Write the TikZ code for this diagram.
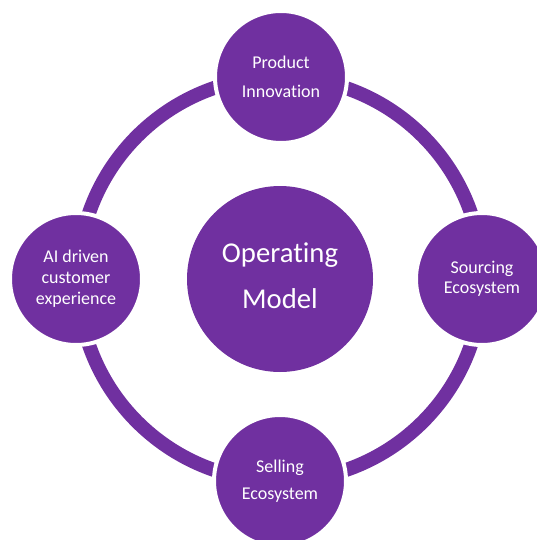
\documentclass[tikz,border=0pt]{standalone}
\usepackage{fontspec}
\setmainfont{Carlito}[Ligatures=NoCommon]
\definecolor{opurple}{HTML}{7030A0}

\begin{document}
\begin{tikzpicture}[x=1pt,y=-1pt,
    hub/.style={circle,fill=opurple,minimum size=186pt,inner sep=0pt,
        text=white,align=center,font=\fontsize{28.7}{46}\selectfont},
    satellite/.style={circle,fill=opurple,draw=white,line width=4pt,
        minimum size=132pt,inner sep=0pt,text=white,align=center},
    ring/.style={draw=opurple,line width=14pt}]
    \useasboundingbox (0,0) rectangle (536,540);

    % Draw the ring and the model in the middle
    \node[hub] (opmodel) at (280,279) {};
    \draw[ring] (opmodel.center) circle (202pt);
    \node[font=\fontsize{28.7}{46}\selectfont,text=white,align=center] (opmodeltext) at (280,276) {Operating\\Model};

    % Draw the four circles on the ring
    \node[satellite,font=\fontsize{18}{29}\selectfont] (product) at (281,77) {Product\\Innovation};
    \node[satellite,font=\fontsize{18}{20}\selectfont] (sourcing) at (482,279) {Sourcing\\Ecosystem};
    \node[satellite,font=\fontsize{18}{27}\selectfont] (selling) at (280,481) {Selling\\Ecosystem};
    \node[satellite,font=\fontsize{18}{21}\selectfont] (aidriven) at (76,279) {AI driven\\customer\\experience};
\end{tikzpicture}
\end{document}
